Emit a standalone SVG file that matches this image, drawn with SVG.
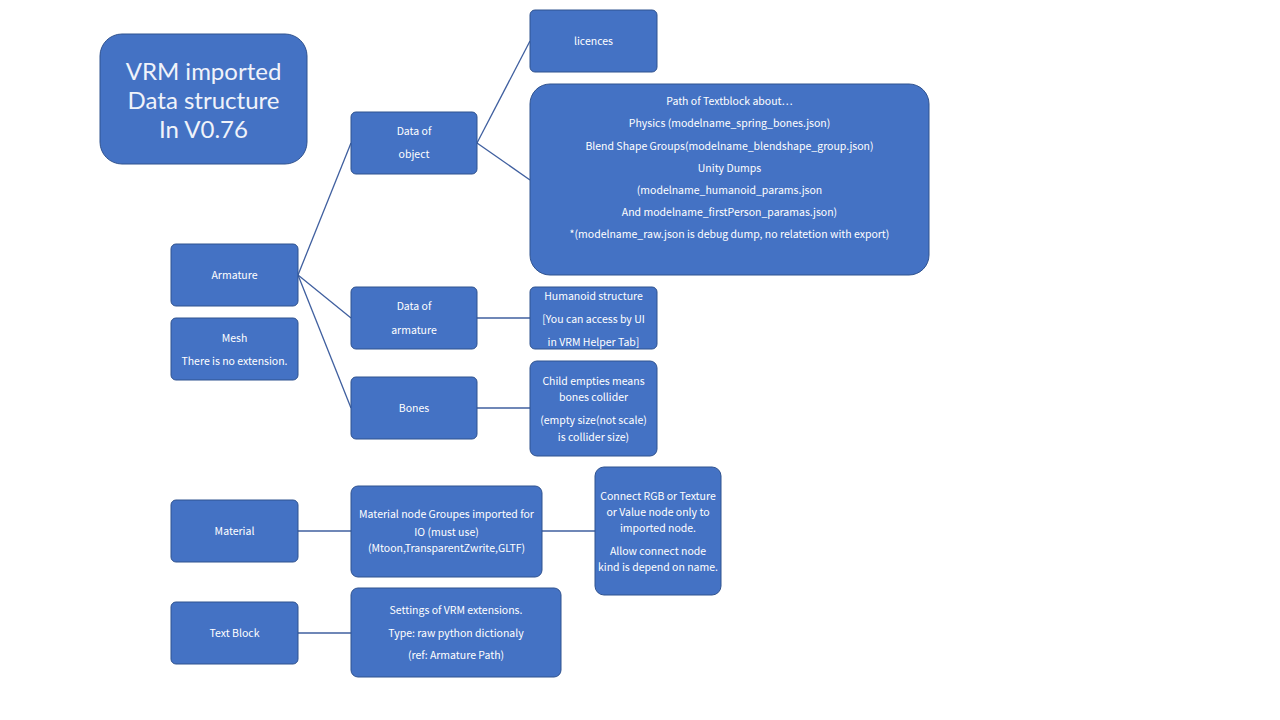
<svg xmlns="http://www.w3.org/2000/svg" width="1280" height="720" viewBox="0 0 1280 720">
<style>
.n{fill:#4472C4;stroke:#2F528F;stroke-width:1}
.t{fill:#ffffff;font-family:"Noto Sans CJK JP","Noto Sans",sans-serif;font-size:10.5px;text-anchor:middle;dominant-baseline:central}
.h{font-family:Lato,"Noto Sans",sans-serif;font-size:24px;fill:#f0f3fa}
.c{stroke:#3F5F9F;stroke-width:1.3;fill:none}
</style>
<rect width="1280" height="720" fill="#ffffff"/>
<g id="connectors">
<line class="c" x1="298" y1="275" x2="351" y2="143"/>
<line class="c" x1="298" y1="275" x2="351" y2="318"/>
<line class="c" x1="298" y1="275" x2="351" y2="408"/>
<line class="c" x1="477" y1="143" x2="530" y2="41"/>
<line class="c" x1="477" y1="143" x2="530" y2="180"/>
<line class="c" x1="477" y1="318" x2="530" y2="318"/>
<line class="c" x1="477" y1="408" x2="530" y2="408"/>
<line class="c" x1="298" y1="531" x2="351" y2="531"/>
<line class="c" x1="542" y1="531" x2="595" y2="531"/>
<line class="c" x1="298" y1="633" x2="351" y2="633"/>
</g>
<g id="title">
<rect class="n" x="100" y="34" width="207" height="130" rx="22"/>
<text class="t h" x="203.5" y="70">VRM imported</text>
<text class="t h" x="203.5" y="99">Data structure</text>
<text class="t h" x="203.5" y="128">In V0.76</text>
</g>
<g id="licences">
<rect class="n" x="530" y="10" width="127" height="62" rx="5"/>
<text class="t" x="593.5" y="40">licences</text>
</g>
<g id="path">
<rect class="n" x="530" y="84" width="399" height="191" rx="20"/>
<text class="t" x="729.5" y="100">Path of Textblock about⋯</text>
<text class="t" x="729.5" y="122">Physics (modelname_spring_bones.json)</text>
<text class="t" x="729.5" y="145">Blend Shape Groups(modelname_blendshape_group.json)</text>
<text class="t" x="729.5" y="167">Unity Dumps</text>
<text class="t" x="729.5" y="189">(modelname_humanoid_params.json</text>
<text class="t" x="729.5" y="211">And modelname_firstPerson_paramas.json)</text>
<text class="t" x="729.5" y="233">*(modelname_raw.json is debug dump, no relatetion with export)</text>
</g>
<g id="data-object">
<rect class="n" x="351" y="112" width="126" height="62" rx="5"/>
<text class="t" x="414" y="130">Data of</text>
<text class="t" x="414" y="153">object</text>
</g>
<g id="armature">
<rect class="n" x="171" y="244" width="127" height="62" rx="5"/>
<text class="t" x="234.5" y="274">Armature</text>
</g>
<g id="mesh">
<rect class="n" x="171" y="318" width="127" height="62" rx="5"/>
<text class="t" x="234.5" y="337">Mesh</text>
<text class="t" x="234.5" y="360">There is no extension.</text>
</g>
<g id="data-armature">
<rect class="n" x="351" y="287" width="126" height="62" rx="5"/>
<text class="t" x="414" y="305">Data of</text>
<text class="t" x="414" y="329">armature</text>
</g>
<g id="humanoid">
<rect class="n" x="530" y="287" width="127" height="62" rx="5"/>
<text class="t" x="593.5" y="295">Humanoid structure</text>
<text class="t" x="593.5" y="318">[You can access by UI</text>
<text class="t" x="593.5" y="341">in VRM Helper Tab]</text>
</g>
<g id="bones">
<rect class="n" x="351" y="377" width="126" height="62" rx="5"/>
<text class="t" x="414" y="407">Bones</text>
</g>
<g id="child-empties">
<rect class="n" x="530" y="361" width="127" height="95" rx="7"/>
<text class="t" x="593.5" y="380">Child empties means</text>
<text class="t" x="593.5" y="396">bones collider</text>
<text class="t" x="593.5" y="419">(empty size(not scale)</text>
<text class="t" x="593.5" y="436">is collider size)</text>
</g>
<g id="material">
<rect class="n" x="171" y="500" width="127" height="62" rx="5"/>
<text class="t" x="234.5" y="530">Material</text>
</g>
<g id="material-node">
<rect class="n" x="351" y="486" width="191" height="91" rx="7"/>
<text class="t" x="446.5" y="513">Material node Groupes imported for</text>
<text class="t" x="446.5" y="531">IO (must use)</text>
<text class="t" x="446.5" y="547">(Mtoon,TransparentZwrite,GLTF)</text>
</g>
<g id="connect-rgb">
<rect class="n" x="595" y="467" width="126" height="128" rx="9"/>
<text class="t" x="658" y="495">Connect RGB or Texture</text>
<text class="t" x="658" y="511">or Value node only to</text>
<text class="t" x="658" y="527">imported node.</text>
<text class="t" x="658" y="550">Allow connect node</text>
<text class="t" x="658" y="566">kind is depend on name.</text>
</g>
<g id="text-block">
<rect class="n" x="171" y="602" width="127" height="62" rx="5"/>
<text class="t" x="234.5" y="632">Text Block</text>
</g>
<g id="settings">
<rect class="n" x="351" y="588" width="210" height="89" rx="7"/>
<text class="t" x="456" y="609">Settings of VRM extensions.</text>
<text class="t" x="456" y="632">Type: raw python dictionaly</text>
<text class="t" x="456" y="654">(ref: Armature Path)</text>
</g>
</svg>
